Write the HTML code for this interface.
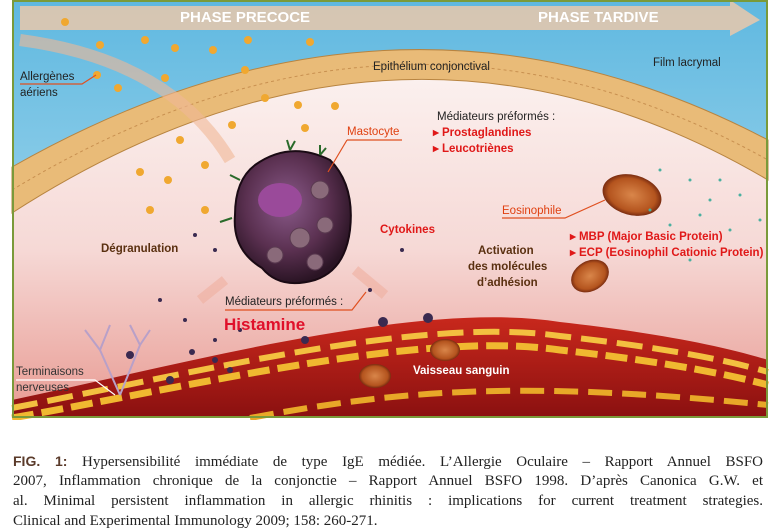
<!DOCTYPE html>
<html><head><meta charset="utf-8"><style>
html,body{margin:0;padding:0;background:#fff;width:778px;height:516px;overflow:hidden}
svg{position:absolute;left:0;top:0}
.cap{position:absolute;left:13px;top:451px;width:750px;font-family:"Liberation Serif",serif;font-size:15px;line-height:20px;color:#222}
.cap div{text-align:justify;text-align-last:justify;white-space:normal;height:20px;overflow:hidden}
.cap b{font-family:"Liberation Sans",sans-serif;font-size:14px;color:#5a3a2a}
</style></head><body>
<svg width="778" height="420" viewBox="0 0 778 420" font-family="Liberation Sans, sans-serif">
<defs>
<linearGradient id="sky" x1="0" y1="0" x2="0" y2="1"><stop offset="0" stop-color="#5fb8e0"/><stop offset="1" stop-color="#bfe4f2"/></linearGradient>
<linearGradient id="pink" x1="0" y1="0" x2="0" y2="1"><stop offset="0" stop-color="#fbf0ee"/><stop offset="0.5" stop-color="#f6d9d6"/><stop offset="1" stop-color="#e89a92"/></linearGradient>
<linearGradient id="ves" x1="0" y1="0" x2="0" y2="1"><stop offset="0" stop-color="#c8281c"/><stop offset="1" stop-color="#8a1010"/></linearGradient>
<radialGradient id="mast" cx="0.45" cy="0.4" r="0.6"><stop offset="0" stop-color="#8a5a8a"/><stop offset="0.6" stop-color="#5a3050"/><stop offset="1" stop-color="#2a1424"/></radialGradient>
<radialGradient id="eo" cx="0.5" cy="0.5" r="0.5"><stop offset="0" stop-color="#d9864a"/><stop offset="0.8" stop-color="#b4541e"/><stop offset="1" stop-color="#7a2c10"/></radialGradient>
</defs>
<rect x="12" y="0" width="756" height="418" fill="url(#sky)"/>
<path d="M12,213 Q400,-36.5 768,180 L768,418 L12,418 Z" fill="url(#pink)"/>
<path d="M12,167 Q400,-53.5 768,140 L768,180 Q400,-36.5 12,213 Z" fill="#e9bb78" stroke="#b88440" stroke-width="1"/>
<path d="M12,190 Q400,-45 768,160" fill="none" stroke="#c89050" stroke-width="1" stroke-dasharray="3 3"/>
<path d="M20,6 L730,6 L730,0 L760,20 L730,36 L730,30 L20,30 Z" fill="#f3c9a8" opacity="0.8"/>
<path d="M20,40 Q170,60 230,160" fill="none" stroke="#f0b896" stroke-width="12" opacity="0.6"/>
<path d="M12,400 C200,360 420,300 560,322 C650,332 720,345 768,360 L768,418 L12,418 Z" fill="url(#ves)"/>
<path d="M12,418 C200,385 420,330 560,350 C650,360 720,372 768,385" fill="none" stroke="#f0b830" stroke-width="7" stroke-dasharray="22 8"/>
<path d="M12,408 C200,372 420,316 560,336 C650,346 720,358 768,372" fill="none" stroke="#f3c040" stroke-width="6" stroke-dasharray="26 10"/>
<path d="M250,418 C400,390 520,380 768,405" fill="none" stroke="#e8a828" stroke-width="6" stroke-dasharray="24 10"/>
<ellipse cx="375" cy="376" rx="16" ry="12" fill="url(#eo)"/>
<ellipse cx="445" cy="350" rx="15" ry="11" fill="url(#eo)"/>
<g fill="#f0a830">
<circle cx="65" cy="22" r="4"/><circle cx="100" cy="45" r="4"/><circle cx="145" cy="40" r="4"/><circle cx="175" cy="48" r="4"/><circle cx="213" cy="50" r="4"/><circle cx="248" cy="40" r="4"/><circle cx="310" cy="42" r="4"/><circle cx="118" cy="88" r="4"/><circle cx="165" cy="78" r="4"/><circle cx="245" cy="70" r="4"/><circle cx="265" cy="98" r="4"/><circle cx="298" cy="105" r="4"/><circle cx="335" cy="106" r="4"/><circle cx="232" cy="125" r="4"/><circle cx="305" cy="128" r="4"/><circle cx="180" cy="140" r="4"/><circle cx="205" cy="165" r="4"/><circle cx="140" cy="172" r="4"/><circle cx="168" cy="180" r="4"/><circle cx="150" cy="210" r="4"/><circle cx="205" cy="210" r="4"/><circle cx="97" cy="75" r="4"/>
</g>
<path d="M255,165 Q290,140 330,160 Q355,185 350,230 Q345,270 315,280 Q280,290 262,268 Q232,250 235,215 Q235,180 255,165 Z" fill="url(#mast)" stroke="#1a0a14" stroke-width="2"/>
<ellipse cx="280" cy="200" rx="22" ry="17" fill="#9a4a9a"/>
<g fill="#8a6a7a" stroke="#5a3a50"><circle cx="320" cy="190" r="9"/><circle cx="300" cy="238" r="10"/><circle cx="325" cy="225" r="8"/><circle cx="275" cy="255" r="8"/><circle cx="315" cy="262" r="8"/></g>
<g stroke="#2a6a2a" stroke-width="2" fill="none"><path d="M290,150 l-3,-10 m3,10 l5,-9"/><path d="M320,155 l0,-10 m0,10 l6,-7"/><path d="M240,180 l-10,-5"/><path d="M232,218 l-12,4"/></g>
<path d="M225,280 L200,300" stroke="#f0b0a0" stroke-width="10" opacity="0.6"/>
<path d="M355,270 L385,295" stroke="#f0b0a0" stroke-width="10" opacity="0.6"/>
<g fill="#3a2a50"><circle cx="192" cy="352" r="3"/><circle cx="215" cy="360" r="3"/><circle cx="170" cy="380" r="4"/><circle cx="305" cy="340" r="4"/><circle cx="383" cy="322" r="5"/><circle cx="428" cy="318" r="5"/><circle cx="215" cy="340" r="2"/><circle cx="185" cy="320" r="2"/><circle cx="160" cy="300" r="2"/><circle cx="240" cy="330" r="2"/><circle cx="195" cy="235" r="2"/><circle cx="215" cy="250" r="2"/><circle cx="370" cy="290" r="2"/><circle cx="402" cy="250" r="2"/><circle cx="130" cy="355" r="4"/><circle cx="230" cy="370" r="3"/></g>
<ellipse cx="632" cy="195" rx="30" ry="20" fill="url(#eo)" transform="rotate(15 632 195)"/>
<ellipse cx="590" cy="276" rx="20" ry="15" fill="url(#eo)" transform="rotate(-30 590 276)"/>
<g fill="#4ab0a0"><circle cx="660" cy="170" r="1.5"/><circle cx="690" cy="180" r="1.5"/><circle cx="710" cy="200" r="1.5"/><circle cx="730" cy="230" r="1.5"/><circle cx="700" cy="215" r="1.5"/><circle cx="670" cy="225" r="1.5"/><circle cx="740" cy="195" r="1.5"/><circle cx="720" cy="180" r="1.5"/><circle cx="690" cy="260" r="1.5"/><circle cx="650" cy="210" r="1.5"/><circle cx="760" cy="220" r="1.5"/></g>
<path d="M120,395 L100,350 M100,350 L85,330 M100,350 L110,325 M120,395 L140,345 M140,345 L130,325 M140,345 L150,330" stroke="#b8a0c8" stroke-width="2" fill="none"/>
<g fill="none" stroke-width="1.2"><path d="M20,84 L82,84 L96,75" stroke="#e05020"/><path d="M347,140 L402,140" stroke="#e05020"/><path d="M347,140 L328,172" stroke="#e05020"/><path d="M502,218 L565,218 L605,200" stroke="#e05020"/><path d="M225,310 L352,310 L366,292" stroke="#e05020"/><path d="M16,380 L95,380 L115,395" stroke="#fff"/></g>
<text x="180" y="22" font-size="15" font-weight="bold" fill="#fff">PHASE PRECOCE</text>
<text x="538" y="22" font-size="15" font-weight="bold" fill="#fff">PHASE TARDIVE</text>
<g font-size="11.5" fill="#222">
<text x="20" y="80">Allergènes</text><text x="20" y="96">aériens</text>
<text x="373" y="70">Epithélium conjonctival</text>
<text x="653" y="66">Film lacrymal</text>
<text x="437" y="120">Médiateurs préformés :</text>
<text x="225" y="305">Médiateurs préformés :</text>
<text x="16" y="375" fill="#333">Terminaisons</text><text x="16" y="391" fill="#333">nerveuses</text>
</g>
<g font-size="11.5" font-weight="bold" fill="#e01818">
<text x="433" y="136">▸ Prostaglandines</text><text x="433" y="152">▸ Leucotriènes</text>
<text x="380" y="233">Cytokines</text>
<text x="570" y="240">▸ MBP (Major Basic Protein)</text><text x="570" y="256">▸ ECP (Eosinophil Cationic Protein)</text>
</g>
<text x="347" y="135" font-size="11.5" fill="#e04010">Mastocyte</text>
<text x="502" y="214" font-size="11.5" fill="#e04010">Eosinophile</text>
<text x="224" y="330" font-size="17" font-weight="bold" fill="#e0102a">Histamine</text>
<g font-size="11.5" font-weight="bold" fill="#5a3010">
<text x="101" y="252">Dégranulation</text>
<text x="478" y="254">Activation</text><text x="468" y="270">des molécules</text><text x="477" y="286">d’adhésion</text>
</g>
<text x="413" y="374" font-size="11.5" font-weight="bold" fill="#fff">Vaisseau sanguin</text>
<rect x="13" y="1" width="754" height="416" fill="none" stroke="#7a9a3a" stroke-width="2"/>
</svg>
<div class="cap">
<div><b>FIG. 1:</b> Hypersensibilité immédiate de type IgE médiée. L’Allergie Oculaire – Rapport Annuel BSFO</div>
<div>2007, Inflammation chronique de la conjonctie – Rapport Annuel BSFO 1998. D’après Canonica G.W. et</div>
<div>al. Minimal persistent inflammation in allergic rhinitis : implications for current treatment strategies.</div>
<div style="text-align-last:left">Clinical and Experimental Immunology 2009; 158: 260-271.</div>
</div>
</body></html>
